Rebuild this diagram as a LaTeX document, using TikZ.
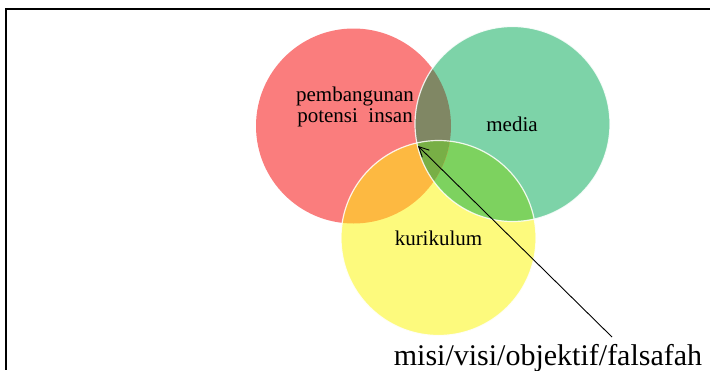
\documentclass[tikz,border=0pt]{standalone}
\usepackage{fontspec}
\setmainfont{Liberation Serif}
\usetikzlibrary{arrows.meta,positioning}

\definecolor{pinkred}{RGB}{250,125,125}
\definecolor{mint}{RGB}{125,211,168}
\definecolor{lemon}{RGB}{253,250,125}
\definecolor{olivemix}{RGB}{128,135,100}
\definecolor{ambermix}{RGB}{253,185,65}
\definecolor{leafmix}{RGB}{125,210,95}
\definecolor{mossmix}{RGB}{120,175,70}

\begin{document}
\begin{tikzpicture}[x=1pt,y=-1pt,>={Straight Barb[length=10pt,width=10pt]},
  ring/.style={circle,minimum size=195pt,inner sep=0pt},
  lbl/.style={font=\fontsize{21pt}{21pt}\selectfont,align=center,inner sep=0pt},
  big/.style={font=\fontsize{30pt}{31pt}\selectfont,inner sep=0pt}]
  \useasboundingbox (0,0) rectangle (710,370);
  \fill[white] (0,0) rectangle (710,370);
  \draw[line width=2.2pt] (710,9) -- (6,9) -- (6,370);
  % circles
  \node[ring,fill=pinkred] (insan) at (353.5,126) {};
  \node[lbl,anchor=base] (insanlbl) at (355,122) {pembangunan\\potensi~ insan};
  \node[ring,fill=mint] (media) at (512.5,124) {};
  \node[ring,fill=lemon] (kurikulum) at (438.5,238) {};
  % overlaps
  \begin{scope}
    \clip (media.center) circle (97.5pt);
    \fill[leafmix] (kurikulum.center) circle (97.5pt);
  \end{scope}
  \begin{scope}
    \clip (insan.center) circle (97.5pt);
    \fill[olivemix] (media.center) circle (97.5pt);
    \fill[ambermix] (kurikulum.center) circle (97.5pt);
    \clip (media.center) circle (97.5pt);
    \fill[mossmix] (kurikulum.center) circle (97.5pt);
  \end{scope}
  \draw[white,line width=1.2pt,opacity=.85] (media.center) circle (97.5pt);
  \draw[white,line width=1.2pt,opacity=.85] (kurikulum.center) circle (97.5pt);
  % labels
  \node[lbl,anchor=base] (medialbl) at (512,131) {media};
  \node[lbl,anchor=base] (kurlbl) at (438.5,245) {kurikulum};
  \node[big,anchor=base] (misi) at (548,365) {misi/visi/objektif/falsafah};
  \coordinate (meet) at (418,146);
  \coordinate (tail) at (612,337);
  \draw[->,line width=0.9pt] (tail) -- (meet);
\end{tikzpicture}
\end{document}
